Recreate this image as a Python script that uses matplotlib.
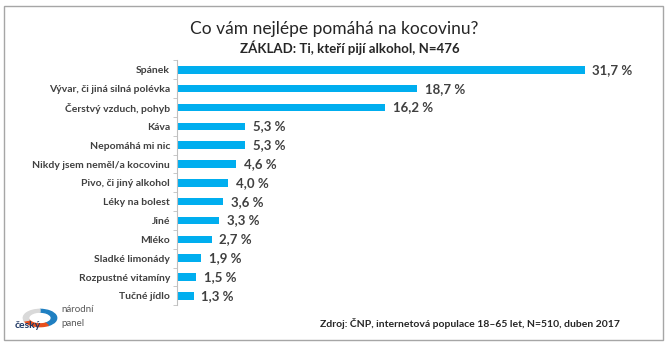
import numpy as np
import matplotlib
matplotlib.use('Agg')
import matplotlib.pyplot as plt
from matplotlib.patches import Rectangle, Wedge

plt.rcParams['font.family'] = ['Lato', 'DejaVu Sans']

# Data
labels = ['Spánek', 'Vývar, či jiná silná polévka', 'Čerstvý vzduch, pohyb', 'Káva',
          'Nepomáhá mi nic', 'Nikdy jsem neměl/a kocovinu', 'Pivo, či jiný alkohol',
          'Léky na bolest', 'Jiné', 'Mléko', 'Sladké limonády', 'Rozpustné vitamíny',
          'Tučné jídlo']
values = [31.7, 18.7, 16.2, 5.3, 5.3, 4.6, 4.0, 3.6, 3.3, 2.7, 1.9, 1.5, 1.3]

fig = plt.figure(figsize=(6.68, 3.45), dpi=100)
ax = fig.add_axes([0.265, 0.115, 0.693, 0.71])

y = np.arange(len(labels))
ax.barh(y, values, height=0.4, color='#00AEEF')
ax.set_ylim(len(labels) - 0.5, -0.5)
ax.set_xlim(0, 36)

ax.set_yticks(y)
ax.set_yticklabels(labels, fontsize=7.5, fontweight='bold', color='#404040')
ax.tick_params(axis='y', which='major', length=0, pad=5)
ax.set_yticks(np.arange(-0.5, len(labels), 1), minor=True)
ax.tick_params(axis='y', which='minor', length=3, color='#BFBFBF')
ax.set_xticks([])
for s in ['top', 'right', 'bottom']:
    ax.spines[s].set_visible(False)
ax.spines['left'].set_color('#BFBFBF')

for yi, v in zip(y, values):
    ax.text(v + 0.6, yi, f'{v:.1f} %'.replace('.', ','), va='center', ha='left',
            fontsize=9.5, fontweight='bold', color='#404040')

# Frame
fig.patches.append(Rectangle((4 / 668, 5 / 345), 659 / 668, 334 / 345, transform=fig.transFigure,
                             fill=False, edgecolor='#A6A6A6', linewidth=1))

fig.text(0.5, 0.915, 'Co vám nejlépe pomáhá na kocovinu?', ha='center', va='center',
         fontsize=12.5, color='#262626')
fig.text(0.524, 0.862, 'ZÁKLAD: Ti, kteří pijí alkohol, N=476', ha='center', va='center',
         fontsize=9.5, fontweight='bold', color='#262626')
fig.text(0.928, 0.062, 'Zdroj: ČNP, internetová populace 18–65 let, N=510, duben 2017',
         ha='right', va='center', fontsize=7.5, fontweight='bold', color='#262626')

# Logo
c = (40 / 668, 1 - 318 / 345)
fig.patches.append(Wedge(c, 0.025, -60, 90, width=0.008, transform=fig.transFigure, color='#1F7FC1'))
fig.patches.append(Wedge(c, 0.025, 200, 300, width=0.008, transform=fig.transFigure, color='#E8501E'))
fig.patches.append(Wedge(c, 0.025, 90, 200, width=0.008, transform=fig.transFigure, color='#D9D9D9'))
fig.text(15 / 668, 1 - 326 / 345, 'český', fontsize=7.5, fontweight='bold', color='#1F3864',
         va='center', ha='left')
fig.text(61 / 668, 1 - 310 / 345, 'národní', fontsize=7, color='#595959', va='center', ha='left')
fig.text(61 / 668, 1 - 323 / 345, 'panel', fontsize=7, color='#595959', va='center', ha='left')

fig.savefig('out.png', dpi=100)
